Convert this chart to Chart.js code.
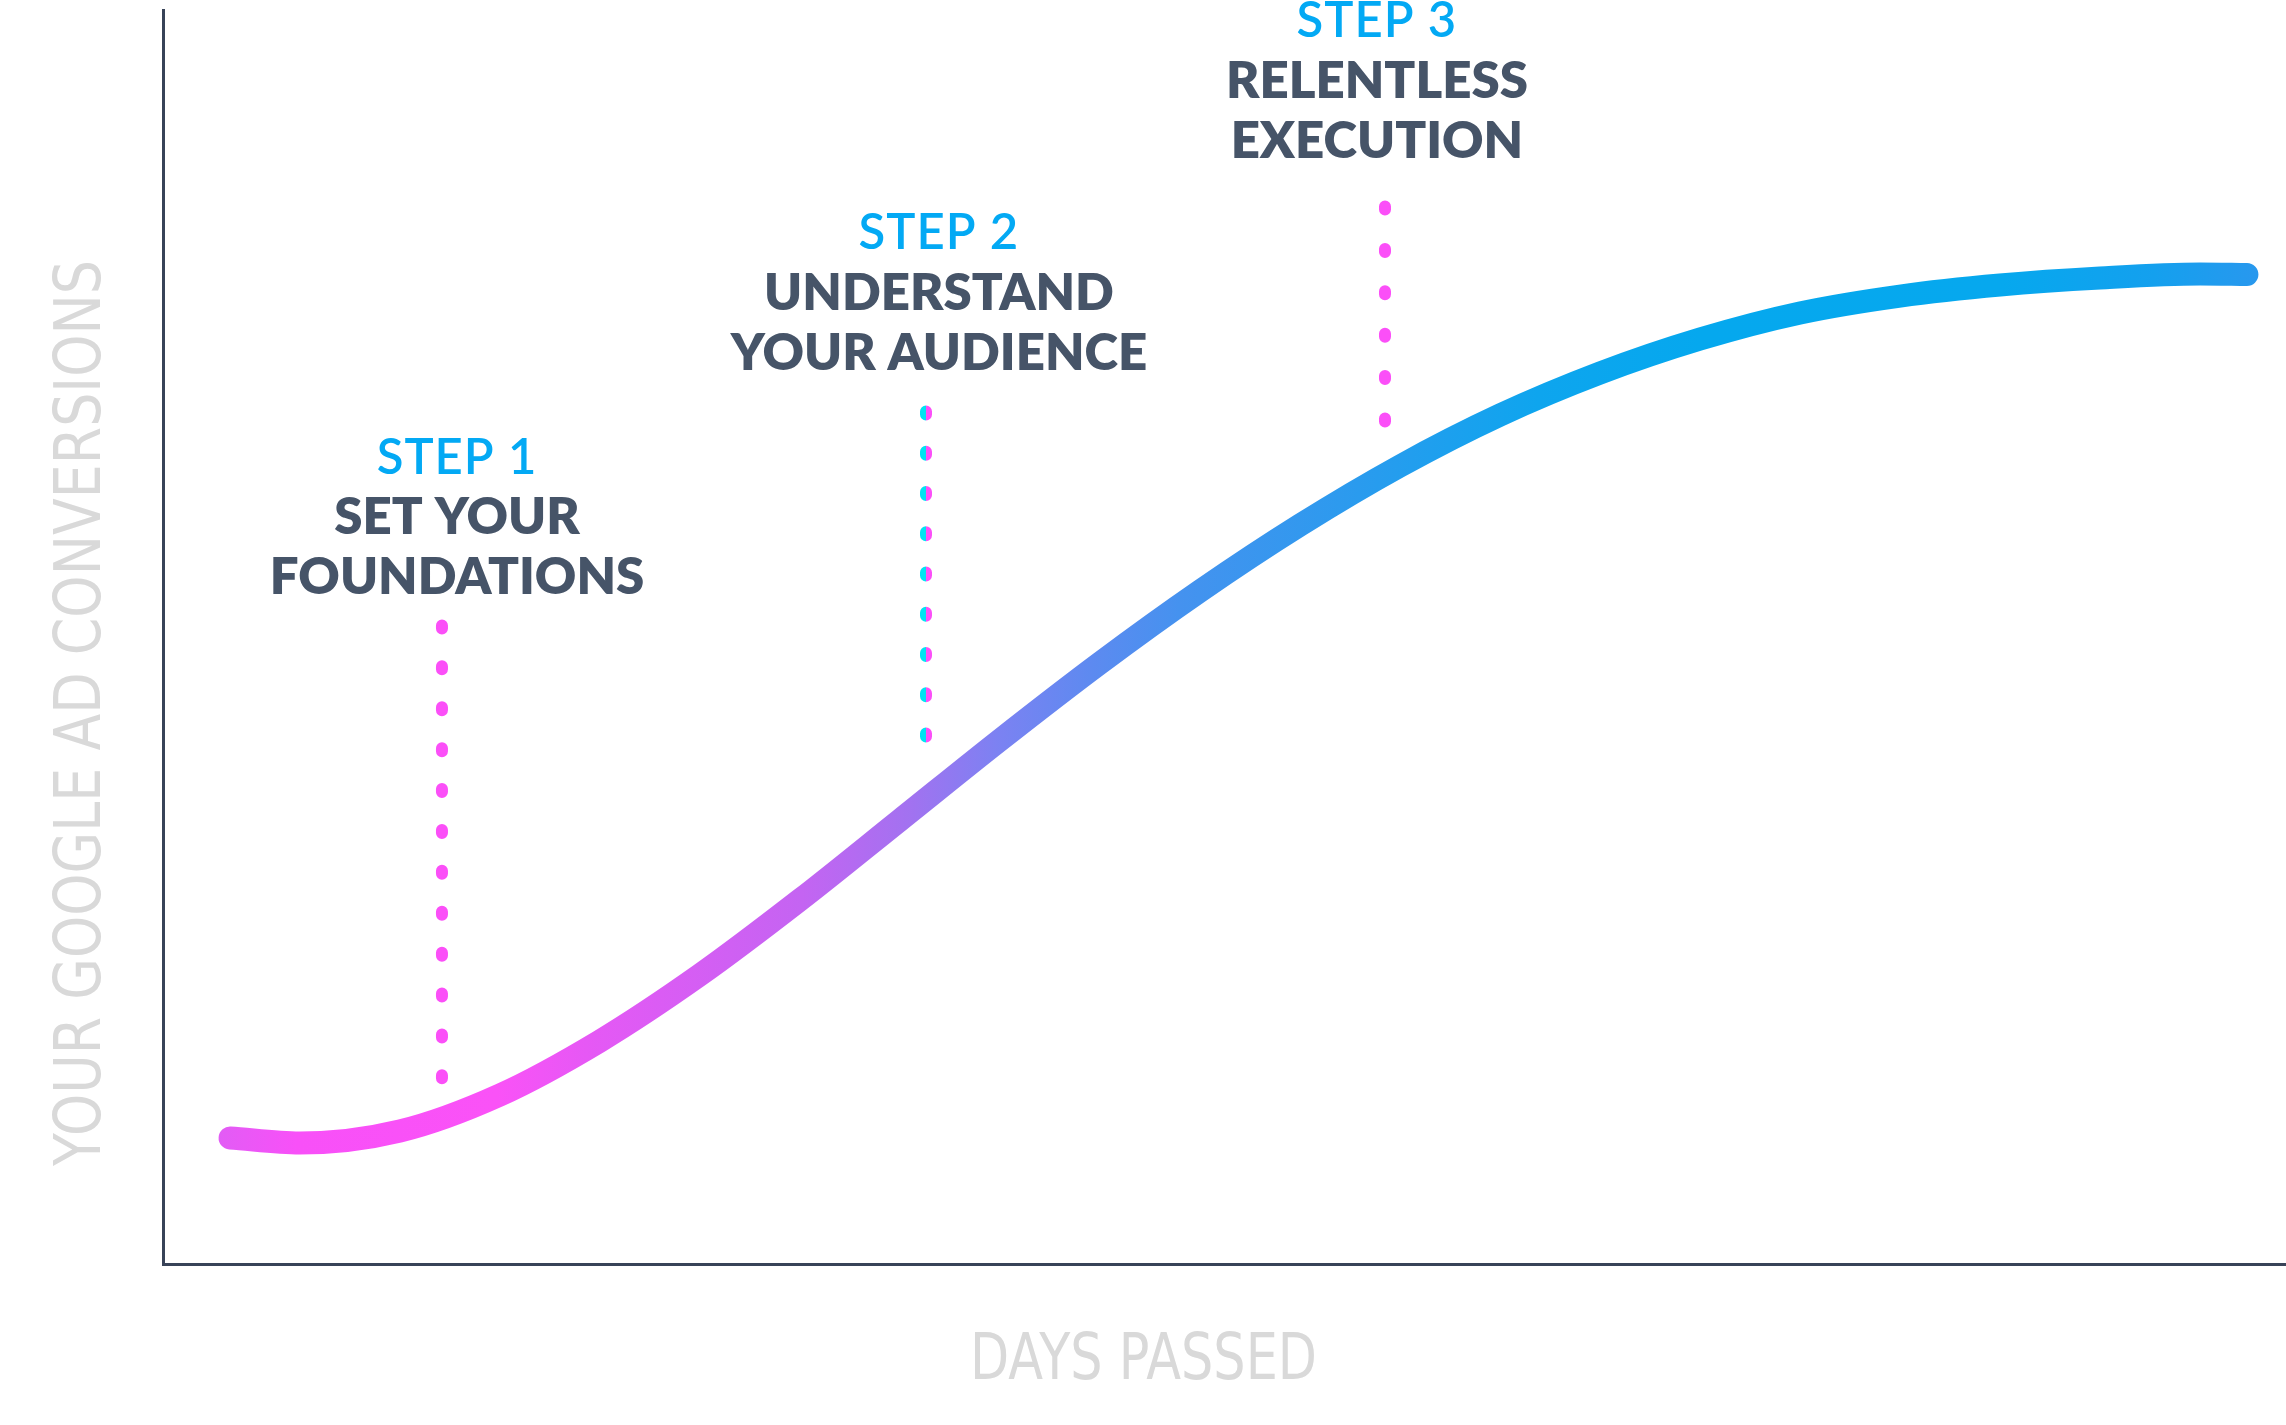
<!DOCTYPE html>
<html>
<head>
<meta charset="utf-8">
<script src="https://cdn.jsdelivr.net/npm/chart.js@4.4.1/dist/chart.umd.min.js"></script>
<style>
html,body{margin:0;padding:0;background:#ffffff;overflow:hidden}
canvas{display:block}
</style>
</head>
<body>
<canvas id="c" width="2286" height="1425"></canvas>
<script>
// ---- data (axis units: days 0..100, conversions 0..100) ----
const curveDays = [3.16, 6.45, 11.16, 15.87, 20.58, 25.29, 30.00, 34.72, 39.43, 44.14, 48.85, 53.56, 58.27, 62.98, 67.69, 72.40, 77.11, 81.82, 86.53, 91.24, 95.95, 98.16];
const curveConversions = [10.05, 9.65, 10.61, 13.48, 17.78, 23.05, 29.03, 35.41, 41.79, 47.93, 53.67, 58.93, 63.64, 67.70, 71.05, 73.76, 75.84, 77.19, 78.07, 78.63, 78.95, 78.91];

const stepTitles = ['STEP 1', 'STEP 2', 'STEP 3'];
const stepLines = [['SET YOUR', 'FOUNDATIONS'], ['UNDERSTAND', 'YOUR AUDIENCE'], ['RELENTLESS', 'EXECUTION']];
const stepLabelDays = [13.85, 36.55, 57.18];
const stepLabelConversions = [64.43, 82.30, 99.24];

const markerDays = [13.14, 35.94, 57.56];
const markerTop = [50.92, 67.98, 84.33];
const markerBottom = [14.79, 42.07, 67.18];

const xAxisTitle = 'DAYS PASSED';
const yAxisTitle = 'YOUR GOOGLE AD CONVERSIONS';

// ---- styles ----
const PINK = '#FB4FF8';
const CYAN = '#00E3F2';
const BLUE_TEXT = '#03A9F4';
const DARK_TEXT = '#465468';
const AXIS = '#384358';
const GREY = '#D9D9D9';
const markerDash = [[3, 37.9], [3, 37.25], [3, 39.4]];

const curveStops = [
  [0.000, '#E25CF5'], [0.038, '#F850F8'], [0.136, '#FA52F7'], [0.180, '#E658F5'],
  [0.286, '#C464F2'], [0.339, '#A272F0'], [0.383, '#7B82F2'], [0.428, '#5D8AF0'],
  [0.471, '#4592EF'], [0.559, '#2A9BEE'], [0.647, '#0EA5EE'], [0.727, '#05A8EE'],
  [0.875, '#06A8EE'], [0.949, '#14A0EE'], [1.000, '#2898EE']
];

function curveGradient(context) {
  const chart = context.chart;
  if (!chart.chartArea) return PINK;
  const xs = chart.scales.x;
  const x0 = xs.getPixelForValue(curveDays[0]) - 11;
  const x1 = xs.getPixelForValue(curveDays[curveDays.length - 1]) + 11;
  const g = chart.ctx.createLinearGradient(x0, 0, x1, 0);
  curveStops.forEach(s => g.addColorStop(s[0], s[1]));
  return g;
}

function splitGradient(context) {
  const chart = context.chart;
  if (!chart.chartArea) return PINK;
  const px = chart.scales.x.getPixelForValue(markerDays[1]);
  const g = chart.ctx.createLinearGradient(px - 6, 0, px + 6, 0);
  g.addColorStop(0, CYAN); g.addColorStop(0.5, CYAN);
  g.addColorStop(0.5, PINK); g.addColorStop(1, PINK);
  return g;
}

const curveData = curveDays.map((d, i) => ({x: d, y: curveConversions[i]}));

const markerSets = markerDays.map((d, i) => ({
  label: stepTitles[i] + ' marker',
  data: [{x: d, y: markerTop[i]}, {x: d, y: markerBottom[i]}],
  borderColor: i === 1 ? splitGradient : PINK,
  borderWidth: 12,
  borderDash: markerDash[i],
  borderCapStyle: 'round',
  pointRadius: 0,
  tension: 0,
  fill: false
}));

const labelPlugin = {
  id: 'stepLabels',
  afterDraw(chart) {
    const {ctx, scales: {x: xs, y: ys}, chartArea} = chart;
    ctx.save();
    ctx.textAlign = 'center';
    ctx.textBaseline = 'alphabetic';
    for (let i = 0; i < stepTitles.length; i++) {
      const px = xs.getPixelForValue(stepLabelDays[i]);
      const py = ys.getPixelForValue(stepLabelConversions[i]);
      ctx.fillStyle = BLUE_TEXT;
      ctx.font = '600 49px Lato';
      ctx.letterSpacing = '1px';
      ctx.fillText(stepTitles[i], px, py + 17.5);
      ctx.fillStyle = DARK_TEXT;
      ctx.font = '800 51px Lato';
      ctx.letterSpacing = '0px';
      stepLines[i].forEach((t, j) => {
        ctx.fillText(t, px, py + 60 * (j + 1) + 18.3);
      });
    }
    ctx.letterSpacing = '0px';
    // axis titles
    ctx.fillStyle = GREY;
    ctx.font = '64px "DejaVu Sans"';
    ctx.fillText(xAxisTitle, chartArea.left + 980.5, chartArea.bottom + 92 + 23, 347);
    ctx.translate(chartArea.left - 86, chartArea.top + 703);
    ctx.rotate(-Math.PI / 2);
    ctx.fillText(yAxisTitle, 0, 23, 906);
    ctx.restore();
  }
};

function build() {
  new Chart(document.getElementById('c'), {
    type: 'line',
    data: {
      datasets: [{
        label: 'Conversions',
        data: curveData,
        borderColor: curveGradient,
        borderWidth: 23,
        borderCapStyle: 'round',
        borderJoinStyle: 'round',
        cubicInterpolationMode: 'monotone',
        pointRadius: 0,
        fill: false
      }].concat(markerSets)
    },
    options: {
      responsive: false,
      animation: false,
      events: [],
      layout: {padding: {left: 163, top: 10, right: 0, bottom: 161}},
      plugins: {legend: {display: false}, tooltip: {enabled: false}, title: {display: false}},
      scales: {
        x: {
          type: 'linear', min: 0, max: 100,
          grid: {display: false, drawTicks: false},
          ticks: {display: false},
          border: {display: true, color: AXIS, width: 3}
        },
        y: {
          type: 'linear', min: 0, max: 100,
          grid: {display: false, drawTicks: false},
          ticks: {display: false},
          border: {display: true, color: AXIS, width: 3}
        }
      }
    },
    plugins: [labelPlugin]
  });
}

Promise.all([
  document.fonts.load('600 49px Lato'),
  document.fonts.load('800 51px Lato'),
  document.fonts.load('64px "DejaVu Sans"')
]).then(build, build);
</script>
</body>
</html>
